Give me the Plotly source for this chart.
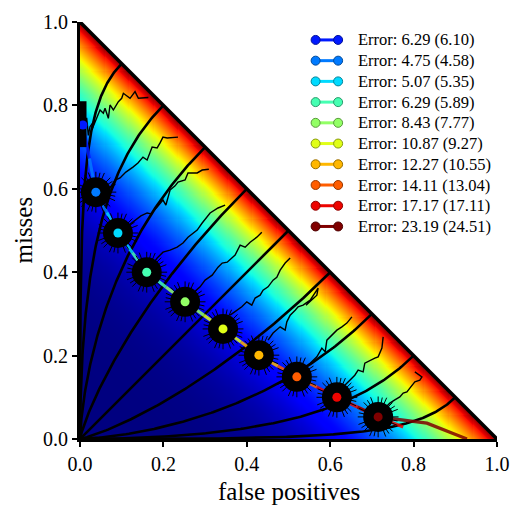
import math
import numpy as np
import plotly.graph_objects as go

# ---------------------------------------------------------------- data
# operating points (false positive rate, miss rate) of the ten detectors
fp_rate = [0.007, 0.038, 0.091, 0.160, 0.252, 0.343, 0.429, 0.520, 0.616, 0.715]
miss_rate = [0.753, 0.592, 0.494, 0.400, 0.329, 0.264, 0.201, 0.149, 0.100, 0.053]

# fitted error and reference error (in parentheses) for each detector
error_fit = [6.29, 4.75, 5.07, 6.29, 8.43, 10.87, 12.27, 14.11, 17.17, 23.19]
error_ref = [6.10, 4.58, 5.35, 5.89, 7.77, 9.27, 10.55, 13.04, 17.11, 24.51]

# decision criteria of the iso-bias curves (chance point at 0.1 ... 0.9)
criteria = [1.2816, 0.8416, 0.5244, 0.2533, 0.0, -0.2533, -0.5244, -0.8416, -1.2816]

# operating curve beyond the last two detectors
tail_red_fp, tail_red_miss = [0.775], [0.029]
tail_dark_fp, tail_dark_miss = [0.832, 0.928], [0.038, 0.0]

# samples of the first detector squeezed against the miss axis
axis_cloud_fp, axis_cloud_miss = [0.006, 0.006], [0.700, 0.810]

# optimisation trajectories leaving each detector
walk_fp = [
    [0.010, 0.016, 0.020, 0.024, 0.036, 0.030, 0.048, 0.056, 0.060, 0.068, 0.072, 0.080,
     0.092, 0.100, 0.104, 0.120, 0.132, 0.140, 0.164],
    [0.048, 0.062, 0.072, 0.084, 0.096, 0.110, 0.127, 0.139, 0.151, 0.161, 0.173, 0.185,
     0.192, 0.199, 0.209, 0.235],
    [0.108, 0.125, 0.137, 0.146, 0.161, 0.170, 0.185, 0.199, 0.206, 0.216, 0.228, 0.235,
     0.252, 0.259, 0.281, 0.293, 0.309],
    [0.173, 0.185, 0.199, 0.216, 0.233, 0.247, 0.259, 0.271, 0.281, 0.293, 0.305, 0.312,
     0.331, 0.348],
    [0.271, 0.288, 0.300, 0.317, 0.331, 0.341, 0.353, 0.365, 0.372, 0.384, 0.396, 0.408,
     0.424, 0.436],
    [0.360, 0.376, 0.388, 0.400, 0.412, 0.420, 0.432, 0.439, 0.451, 0.463, 0.472, 0.480,
     0.492, 0.504],
    [0.451, 0.463, 0.480, 0.492, 0.496, 0.504, 0.516, 0.523, 0.535, 0.552, 0.571, 0.568,
     0.542],
    [0.547, 0.556, 0.568, 0.580, 0.588, 0.592, 0.604, 0.616, 0.628, 0.640, 0.652],
    [0.635, 0.647, 0.659, 0.667, 0.679, 0.683, 0.695, 0.707, 0.715, 0.724, 0.727],
    [0.731, 0.743, 0.755, 0.767, 0.775, 0.784, 0.791, 0.796, 0.803, 0.815, 0.820, 0.803],
]
walk_miss = [
    [0.735, 0.770, 0.728, 0.749, 0.765, 0.745, 0.789, 0.781, 0.793, 0.769, 0.801, 0.789,
     0.809, 0.817, 0.829, 0.817, 0.833, 0.817, 0.819],
    [0.585, 0.607, 0.602, 0.621, 0.626, 0.640, 0.652, 0.662, 0.676, 0.669, 0.700, 0.698,
     0.710, 0.724, 0.722, 0.724],
    [0.506, 0.520, 0.528, 0.535, 0.542, 0.540, 0.556, 0.573, 0.561, 0.597, 0.607, 0.616,
     0.621, 0.638, 0.638, 0.645, 0.647],
    [0.417, 0.434, 0.448, 0.453, 0.460, 0.470, 0.484, 0.494, 0.501, 0.518, 0.532, 0.542,
     0.554, 0.561],
    [0.350, 0.365, 0.381, 0.393, 0.412, 0.422, 0.424, 0.436, 0.441, 0.465, 0.460, 0.472,
     0.484, 0.496],
    [0.297, 0.309, 0.317, 0.329, 0.321, 0.338, 0.345, 0.357, 0.365, 0.381, 0.388, 0.405,
     0.422, 0.434],
    [0.237, 0.254, 0.269, 0.261, 0.281, 0.297, 0.309, 0.317, 0.321, 0.333, 0.362, 0.345,
     0.321],
    [0.177, 0.185, 0.197, 0.218, 0.209, 0.237, 0.249, 0.261, 0.269, 0.278, 0.293],
    [0.129, 0.141, 0.153, 0.165, 0.161, 0.182, 0.189, 0.194, 0.197, 0.218, 0.245],
    [0.074, 0.086, 0.094, 0.101, 0.110, 0.113, 0.122, 0.129, 0.137, 0.141, 0.149, 0.161],
]

ticks = [0.0, 0.2, 0.4, 0.6, 0.8, 1.0]
tick_text = ["0.0", "0.2", "0.4", "0.6", "0.8", "1.0"]

# ---------------------------------------------------------------- colours
JET = {
    "r": [(0.0, 0.0), (0.35, 0.0), (0.66, 1.0), (0.89, 1.0), (1.0, 0.5)],
    "g": [(0.0, 0.0), (0.125, 0.0), (0.375, 1.0), (0.64, 1.0), (0.91, 0.0), (1.0, 0.0)],
    "b": [(0.0, 0.5), (0.11, 1.0), (0.34, 1.0), (0.65, 0.0), (1.0, 0.0)],
}


def jet(v, scale=1.0):
    out = []
    for ch in "rgb":
        xs, ys = zip(*JET[ch])
        out.append(int(round(255 * scale * float(np.interp(v, xs, ys)))))
    return "rgb({},{},{})".format(*out)


jet_scale = [[float(v), jet(v)] for v in np.linspace(0, 1, 101)]
n_series = len(fp_rate)
levels = np.linspace(0.15, 1.0, n_series)
colors = [jet(v) for v in levels]
edge_colors = [jet(v, 0.6) for v in levels]

FONT = "Liberation Serif"

fig = go.Figure()

# ---------------------------------------------------------------- background: error level
grid = np.linspace(0, 1, 401)
gx, gy = np.meshgrid(grid, grid)
total = gx + gy
field = np.where(total <= 1.0 + 1e-9, np.clip(total ** 4.6, 0, 1), np.nan)
fig.add_trace(go.Heatmap(x=grid, y=grid, z=field, colorscale=jet_scale, zmin=0, zmax=1,
                         showscale=False, hoverinfo="skip"))


# ---------------------------------------------------------------- iso-criterion curves
def phi(z):
    return 0.5 * (1.0 + math.erf(z / math.sqrt(2.0)))


d_prime = np.concatenate([np.linspace(0, 3, 120), np.linspace(3.05, 12, 120)])
for c in criteria:
    cx = [phi(-d / 2 - c) for d in d_prime]
    cy = [phi(-d / 2 + c) for d in d_prime]
    fig.add_trace(go.Scatter(x=cx, y=cy, mode="lines", line=dict(color="black", width=2.6),
                             hoverinfo="skip", showlegend=False))

# chance line
fig.add_trace(go.Scatter(x=[0, 1], y=[1, 0], mode="lines", line=dict(color="black", width=3.5),
                         cliponaxis=False, hoverinfo="skip", showlegend=False))


# ---------------------------------------------------------------- operating curve, coloured per detector
def mid(a, b):
    return (a + b) / 2.0


for i in range(n_series):
    px, py = [], []
    if i > 0:
        px.append(mid(fp_rate[i - 1], fp_rate[i]))
        py.append(mid(miss_rate[i - 1], miss_rate[i]))
    px.append(fp_rate[i])
    py.append(miss_rate[i])
    if i < n_series - 2:
        px.append(mid(fp_rate[i], fp_rate[i + 1]))
        py.append(mid(miss_rate[i], miss_rate[i + 1]))
    elif i == n_series - 2:
        px += [fp_rate[i + 1]] + tail_red_fp
        py += [miss_rate[i + 1]] + tail_red_miss
    else:
        px += tail_dark_fp
        py += tail_dark_miss
    fig.add_trace(go.Scatter(x=px, y=py, mode="lines", opacity=0.85,
                             line=dict(color=colors[i], width=3.2),
                             hoverinfo="skip", showlegend=False))

# ---------------------------------------------------------------- trajectories and sample clouds
for wx, wy in zip(walk_fp, walk_miss):
    fig.add_trace(go.Scatter(x=wx, y=wy, mode="lines", line=dict(color="black", width=1.4),
                             hoverinfo="skip", showlegend=False))

fig.add_trace(go.Scatter(x=axis_cloud_fp, y=axis_cloud_miss, mode="lines",
                         line=dict(color="black", width=8), cliponaxis=False,
                         hoverinfo="skip", showlegend=False))
fig.add_trace(go.Scatter(x=fp_rate[1:], y=miss_rate[1:], mode="markers",
                         marker=dict(symbol="circle", size=30, color="black"),
                         hoverinfo="skip", showlegend=False))
for ang, sz in ((0, 34), (12, 33), (24, 35)):
    fig.add_trace(go.Scatter(x=fp_rate[1:], y=miss_rate[1:], mode="markers",
                             marker=dict(symbol="asterisk-open", size=sz, angle=ang, color="black",
                                         line=dict(color="black", width=1.0)),
                             hoverinfo="skip", showlegend=False))

fig.add_trace(go.Scatter(x=fp_rate, y=miss_rate, mode="markers", cliponaxis=False,
                         marker=dict(size=9, color=colors, line=dict(width=0)),
                         hoverinfo="skip", showlegend=False))

# ---------------------------------------------------------------- legend
leg_x0, leg_x1, leg_text_x = 0.565, 0.619, 0.662
leg_top, leg_step = 0.957, 0.0497
annotations = []
for i in range(n_series):
    ly = leg_top - i * leg_step
    fig.add_trace(go.Scatter(x=[leg_x0, leg_x1], y=[ly, ly], mode="lines+markers",
                             line=dict(color=colors[i], width=3),
                             marker=dict(size=9, color=colors[i],
                                         line=dict(color=edge_colors[i], width=1)),
                             hoverinfo="skip", showlegend=False))
    annotations.append(dict(x=leg_text_x, y=ly, xref="x", yref="y", xanchor="left",
                            yanchor="middle", showarrow=False,
                            text="Error: {:.2f} ({:.2f})".format(error_fit[i], error_ref[i]),
                            font=dict(family=FONT, size=16.5, color="black")))

annotations.append(dict(x=0.5, y=0, xref="paper", yref="paper", xanchor="center",
                        yanchor="top", yshift=-37, showarrow=False, text="false positives",
                        font=dict(family=FONT, size=25, color="black")))
annotations.append(dict(x=0, y=0.5, xref="paper", yref="paper", xanchor="center",
                        yanchor="middle", xshift=-57, showarrow=False, text="misses",
                        textangle=-90, font=dict(family=FONT, size=25, color="black")))

axis_style = dict(range=[0, 1], tickvals=ticks, ticktext=tick_text, ticks="outside",
                  ticklen=5, tickwidth=1.5, tickcolor="black", showline=True, linewidth=3,
                  linecolor="black", showgrid=False, zeroline=False, automargin=False,
                  tickfont=dict(family=FONT, size=20, color="black"))

fig.update_layout(
    width=512, height=507,
    margin=dict(l=80, r=15, t=22, b=68, autoexpand=False),
    paper_bgcolor="white", plot_bgcolor="white",
    xaxis=axis_style, yaxis=axis_style,
    annotations=annotations,
    showlegend=False,
)

fig.write_html("out.html")
